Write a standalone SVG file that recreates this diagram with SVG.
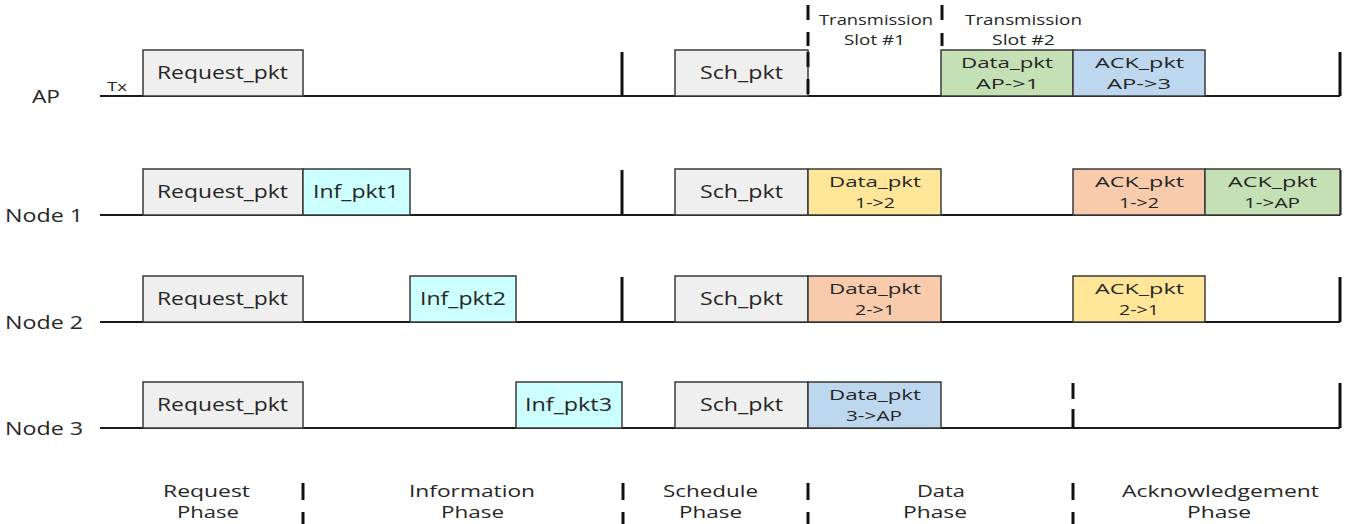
<svg xmlns="http://www.w3.org/2000/svg" width="1355" height="524" viewBox="0 0 1355 524">
<style>
text{font-family:"Open Sans","Liberation Sans",sans-serif;fill:#262626}
.t{font-size:18.5px}
.d{font-size:15px}
.p{font-size:17px}
.s{font-size:14px}
.box{stroke:#3a3a3a;stroke-width:1.5}
.gray{fill:#efefef}.cyan{fill:#ccffff}.yel{fill:#ffe699}.org{fill:#f8cbad}.grn{fill:#c5e0b4}.blu{fill:#bdd7ee}
.base{stroke:#1a1a1a;stroke-width:2;fill:none}
.bar{stroke:#111;stroke-width:3;fill:none}
.dash{stroke:#111;stroke-width:3;fill:none;stroke-dasharray:15 12}
</style>
<rect width="1355" height="524" fill="#fff"/>
<g id="connectors">
<path class="base" d="M100 96H1340M100 215H1340M100 322H1340M100 428H1340"/>
<path class="bar" d="M622 52V96M1340 52V96M622 170V215M1340 170V215M622 277V322M1340 277V322M1340 383V428"/>
<path class="bar" d="M808 5V20M808 32V46M942 5V20M942 33V46"/>
<path class="bar" d="M1073 383V399M1073 409V428"/>
<path class="bar" d="M303 483V500M303 512V524M623 483V500M623 512V524M808 483V500M808 512V524M1073 483V500M1073 512V524"/>
</g>
<g id="labels">
<text class="t" x="32" y="103" textLength="28" lengthAdjust="spacingAndGlyphs">AP</text>
<text x="107" y="91" style="font-size:13px" textLength="20" lengthAdjust="spacingAndGlyphs">Tx</text>
<text class="t" x="5" y="222" textLength="78" lengthAdjust="spacingAndGlyphs">Node 1</text>
<text class="t" x="5" y="329" textLength="78" lengthAdjust="spacingAndGlyphs">Node 2</text>
<text class="t" x="5" y="435" textLength="78" lengthAdjust="spacingAndGlyphs">Node 3</text>
</g>
<g id="ap">
<rect class="box gray" x="143" y="50" width="160" height="46"/><text class="t" x="157" y="79" textLength="131" lengthAdjust="spacingAndGlyphs">Request_pkt</text>
<rect class="box gray" x="675" y="50" width="133" height="46"/><text class="t" x="700" y="79" textLength="83" lengthAdjust="spacingAndGlyphs">Sch_pkt</text>
<path class="dash" d="M808 52V96"/>
<text class="s" x="819" y="25" textLength="114" lengthAdjust="spacingAndGlyphs">Transmission</text><text class="s" x="844" y="45" textLength="61" lengthAdjust="spacingAndGlyphs">Slot #1</text>
<text class="s" x="965" y="25" textLength="117" lengthAdjust="spacingAndGlyphs">Transmission</text><text class="s" x="992" y="45" textLength="63" lengthAdjust="spacingAndGlyphs">Slot #2</text>
<rect class="box grn" x="941" y="50" width="132" height="46"/><text class="d" x="961" y="68" textLength="92" lengthAdjust="spacingAndGlyphs">Data_pkt</text><text class="d" x="976" y="89" textLength="63" lengthAdjust="spacingAndGlyphs">AP-&gt;1</text>
<rect class="box blu" x="1073" y="50" width="132" height="46"/><text class="d" x="1095" y="68" textLength="89" lengthAdjust="spacingAndGlyphs">ACK_pkt</text><text class="d" x="1107" y="89" textLength="64" lengthAdjust="spacingAndGlyphs">AP-&gt;3</text>
</g>
<g id="node1">
<rect class="box gray" x="143" y="169" width="160" height="46"/><text class="t" x="157" y="198" textLength="131" lengthAdjust="spacingAndGlyphs">Request_pkt</text>
<rect class="box cyan" x="303" y="169" width="107" height="46"/><text class="t" x="313" y="198" textLength="86" lengthAdjust="spacingAndGlyphs">Inf_pkt1</text>
<rect class="box gray" x="675" y="169" width="133" height="46"/><text class="t" x="700" y="198" textLength="83" lengthAdjust="spacingAndGlyphs">Sch_pkt</text>
<rect class="box yel" x="808" y="169" width="133" height="46"/><text class="d" x="829" y="187" textLength="92" lengthAdjust="spacingAndGlyphs">Data_pkt</text><text class="d" x="855" y="208" textLength="40" lengthAdjust="spacingAndGlyphs">1-&gt;2</text>
<rect class="box org" x="1073" y="169" width="132" height="46"/><text class="d" x="1095" y="187" textLength="89" lengthAdjust="spacingAndGlyphs">ACK_pkt</text><text class="d" x="1119" y="208" textLength="40" lengthAdjust="spacingAndGlyphs">1-&gt;2</text>
<rect class="box grn" x="1205" y="169" width="135" height="46"/><text class="d" x="1228" y="187" textLength="89" lengthAdjust="spacingAndGlyphs">ACK_pkt</text><text class="d" x="1244" y="208" textLength="56" lengthAdjust="spacingAndGlyphs">1-&gt;AP</text>
</g>
<g id="node2">
<rect class="box gray" x="143" y="276" width="160" height="46"/><text class="t" x="157" y="305" textLength="131" lengthAdjust="spacingAndGlyphs">Request_pkt</text>
<rect class="box cyan" x="410" y="276" width="106" height="46"/><text class="t" x="420" y="305" textLength="86" lengthAdjust="spacingAndGlyphs">Inf_pkt2</text>
<rect class="box gray" x="675" y="276" width="133" height="46"/><text class="t" x="700" y="305" textLength="83" lengthAdjust="spacingAndGlyphs">Sch_pkt</text>
<rect class="box org" x="808" y="276" width="133" height="46"/><text class="d" x="829" y="294" textLength="92" lengthAdjust="spacingAndGlyphs">Data_pkt</text><text class="d" x="855" y="315" textLength="40" lengthAdjust="spacingAndGlyphs">2-&gt;1</text>
<rect class="box yel" x="1073" y="276" width="132" height="46"/><text class="d" x="1095" y="294" textLength="89" lengthAdjust="spacingAndGlyphs">ACK_pkt</text><text class="d" x="1119" y="315" textLength="40" lengthAdjust="spacingAndGlyphs">2-&gt;1</text>
</g>
<g id="node3">
<rect class="box gray" x="143" y="382" width="160" height="46"/><text class="t" x="157" y="411" textLength="131" lengthAdjust="spacingAndGlyphs">Request_pkt</text>
<rect class="box cyan" x="516" y="382" width="106" height="46"/><text class="t" x="525" y="411" textLength="87" lengthAdjust="spacingAndGlyphs">Inf_pkt3</text>
<rect class="box gray" x="675" y="382" width="133" height="46"/><text class="t" x="700" y="411" textLength="83" lengthAdjust="spacingAndGlyphs">Sch_pkt</text>
<rect class="box blu" x="808" y="382" width="133" height="46"/><text class="d" x="829" y="400" textLength="92" lengthAdjust="spacingAndGlyphs">Data_pkt</text><text class="d" x="846" y="421" textLength="56" lengthAdjust="spacingAndGlyphs">3-&gt;AP</text>
</g>
<g id="phases">
<text class="p" x="163" y="497" textLength="87" lengthAdjust="spacingAndGlyphs">Request</text><text class="p" x="177" y="518" textLength="62" lengthAdjust="spacingAndGlyphs">Phase</text>
<text class="p" x="409" y="497" textLength="126" lengthAdjust="spacingAndGlyphs">Information</text><text class="p" x="441" y="518" textLength="63" lengthAdjust="spacingAndGlyphs">Phase</text>
<text class="p" x="663" y="497" textLength="95" lengthAdjust="spacingAndGlyphs">Schedule</text><text class="p" x="679" y="518" textLength="63" lengthAdjust="spacingAndGlyphs">Phase</text>
<text class="p" x="917" y="497" textLength="48" lengthAdjust="spacingAndGlyphs">Data</text><text class="p" x="903" y="518" textLength="64" lengthAdjust="spacingAndGlyphs">Phase</text>
<text class="p" x="1122" y="497" textLength="197" lengthAdjust="spacingAndGlyphs">Acknowledgement</text><text class="p" x="1187" y="518" textLength="64" lengthAdjust="spacingAndGlyphs">Phase</text>
</g>
</svg>
